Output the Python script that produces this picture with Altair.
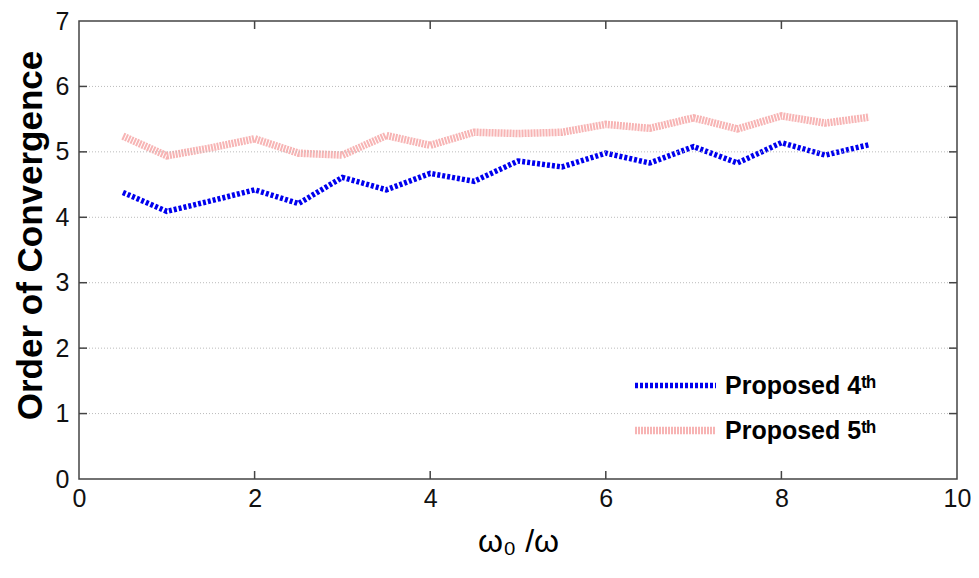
import altair as alt
import pandas as pd

x_vals = [0.5, 1, 1.5, 2, 2.5, 3, 3.5, 4, 4.5, 5, 5.5, 6, 6.5, 7, 7.5, 8, 8.5, 9]
p4 = [4.38, 4.09, 4.25, 4.42, 4.21, 4.61, 4.42, 4.67, 4.55, 4.86, 4.77, 4.98, 4.83, 5.08, 4.83, 5.14, 4.95, 5.11]
p5 = [5.24, 4.94, 5.06, 5.20, 4.98, 4.95, 5.25, 5.10, 5.30, 5.28, 5.30, 5.42, 5.36, 5.52, 5.35, 5.55, 5.44, 5.53]
series_names = ["Proposed 4ᵗʰ", "Proposed 5ᵗʰ"]
x_ticks = [0, 2, 4, 6, 8, 10]
y_ticks = [0, 1, 2, 3, 4, 5, 6, 7]
inner_x_ticks = [2, 4, 6, 8]
inner_y_ticks = [1, 2, 3, 4, 5, 6]

W, H = 878, 458
FRAME = "#444444"

df = pd.DataFrame({
    "x": x_vals + x_vals,
    "y": p4 + p5,
    "series": [series_names[0]] * len(x_vals) + [series_names[1]] * len(x_vals),
})

xscale = alt.Scale(domain=[0, 10], nice=False)
yscale = alt.Scale(domain=[0, 7], nice=False)

xaxis = alt.Axis(
    values=x_ticks, title="ω₀ /ω", grid=False, ticks=False, domain=False,
    labelFontSize=25, labelPadding=7, labelColor="#111", labelFlush=False,
    titleFontSize=32, titleFontWeight="normal", titlePadding=15, titleColor="#000")
yaxis = alt.Axis(
    values=y_ticks, title="Order of Convergence", grid=False, ticks=False, domain=False,
    labelFontSize=25, labelPadding=10, labelColor="#111", labelFlush=False,
    titleFontSize=35, titleFontWeight="bold", titlePadding=7, titleColor="#000",
    titleY=214)

legend = alt.Legend(
    title=None, orient="none", legendX=570, legendY=339,
    labelFontSize=25, labelFontWeight="bold", labelColor="#000",
    symbolType="M-1.8,0H1.8", symbolSize=2025, labelOffset=23,
    rowPadding=5, padding=0, labelLimit=400,
)

grid = alt.Chart(pd.DataFrame({"y": inner_y_ticks})).mark_rule(
    color="#bbbbbb", strokeWidth=1, strokeDash=[1, 2]
).encode(y=alt.Y("y:Q", scale=yscale, axis=yaxis))

lines = alt.Chart(df).mark_line(strokeCap="butt").encode(
    x=alt.X("x:Q", scale=xscale, axis=xaxis),
    y=alt.Y("y:Q", scale=yscale, axis=yaxis),
    color=alt.Color("series:N", scale=alt.Scale(domain=series_names, range=["#0000ee", "#f7b4b4"]), legend=legend),
    strokeDash=alt.StrokeDash("series:N", scale=alt.Scale(domain=series_names, range=[[3, 2], [2, 1]]), legend=legend),
    strokeWidth=alt.StrokeWidth("series:N", scale=alt.Scale(domain=series_names, range=[5.5, 7.5]), legend=legend),
)

tdx = pd.DataFrame({"x": inner_x_ticks})
tdy = pd.DataFrame({"y": inner_y_ticks})
tick_style = dict(color=FRAME, strokeWidth=1.5)
xt_bottom = alt.Chart(tdx).mark_rule(**tick_style).encode(
    x=alt.X("x:Q", scale=xscale, axis=xaxis), y=alt.value(H), y2=alt.value(H - 8))
xt_top = alt.Chart(tdx).mark_rule(**tick_style).encode(
    x=alt.X("x:Q", scale=xscale, axis=xaxis), y=alt.value(0), y2=alt.value(8))
yt_left = alt.Chart(tdy).mark_rule(**tick_style).encode(
    y=alt.Y("y:Q", scale=yscale, axis=yaxis), x=alt.value(0), x2=alt.value(8))
yt_right = alt.Chart(tdy).mark_rule(**tick_style).encode(
    y=alt.Y("y:Q", scale=yscale, axis=yaxis), x=alt.value(W), x2=alt.value(W - 8))

chart = alt.layer(lines, grid, xt_bottom, xt_top, yt_left, yt_right).properties(
    width=W, height=H,
    autosize=alt.AutoSizeParams(type="none"),
    padding={"left": 71, "top": 13, "right": 14, "bottom": 90},
).configure(font="Liberation Sans").configure_view(
    stroke=FRAME, strokeWidth=1.5
)

chart.save("out.html", embed_options={"renderer": "svg", "actions": False})
